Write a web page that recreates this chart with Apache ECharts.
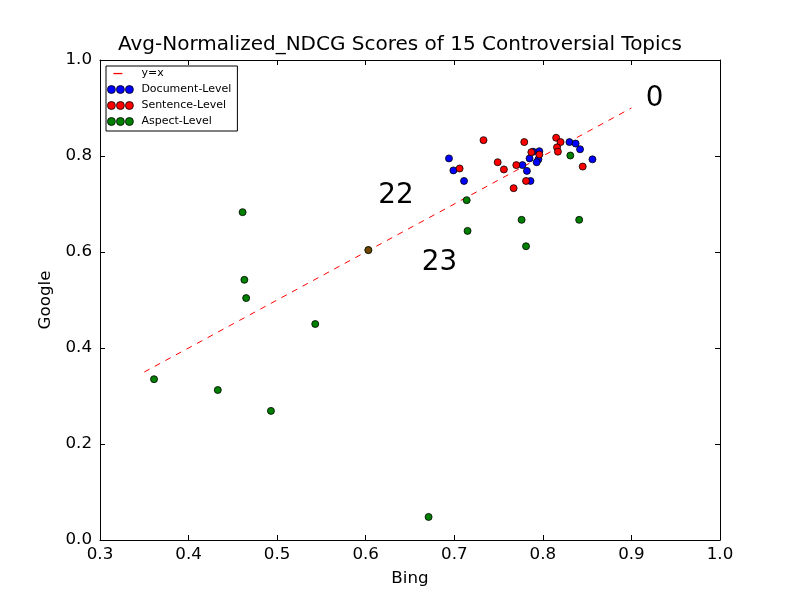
<!DOCTYPE html>
<html>
<head>
<meta charset="utf-8">
<script src="https://cdn.jsdelivr.net/npm/echarts@6/dist/echarts.min.js"></script>
<style>
  html, body { margin: 0; padding: 0; background: #fff; }
  #chart-container { width: 800px; height: 600px; }
</style>
</head>
<body>
<div id="chart-container"></div>
<script>
// values: [bing, google]
var docLevel = [
  [0.694, 0.795], [0.699, 0.770], [0.711, 0.748], [0.777, 0.781], [0.782, 0.769],
  [0.785, 0.795], [0.789, 0.809], [0.796, 0.810], [0.795, 0.793], [0.793, 0.787],
  [0.786, 0.748], [0.830, 0.829], [0.837, 0.826], [0.842, 0.814], [0.856, 0.793]
];
var sentLevel = [
  [0.706, 0.774], [0.733, 0.833], [0.749, 0.787], [0.756, 0.772], [0.770, 0.781],
  [0.767, 0.733], [0.779, 0.829], [0.781, 0.748], [0.787, 0.808], [0.796, 0.803],
  [0.815, 0.838], [0.820, 0.829], [0.816, 0.818], [0.817, 0.809], [0.845, 0.778],
  [0.603, 0.604]
];
var aspLevel = [
  [0.361, 0.335], [0.433, 0.3125], [0.461, 0.683], [0.463, 0.542], [0.465, 0.504],
  [0.493, 0.269], [0.543, 0.450], [0.603, 0.604], [0.671, 0.048], [0.714, 0.708],
  [0.715, 0.644], [0.776, 0.667], [0.781, 0.612], [0.831, 0.801], [0.841, 0.667]
];
var diagLine = [[0.35, 0.35], [0.9, 0.9]];
// topic number labels: [x, y, text]
var topicLabels = [
  [0.9162, 0.920, "0"],
  [0.6142, 0.7175, "22"],
  [0.6632, 0.578, "23"]
];
var legendNames = ["y=x", "Document-Level", "Sentence-Level", "Aspect-Level"];

var FONT = "DejaVu Sans";
var dotsIcon = "path://M0,4a4,4 0 1,0 8,0a4,4 0 1,0 -8,0zM9,4a4,4 0 1,0 8,0a4,4 0 1,0 -8,0zM18,4a4,4 0 1,0 8,0a4,4 0 1,0 -8,0zM29,0";
var dashIcon = "path://M0,0M6,3.4h9v1.3h-9zM29,8";

var dom = document.getElementById("chart-container");
var myChart = echarts.init(dom, null, { renderer: "canvas" });

function frameAxis(pos, min, max, interval, extra) {
  var ax = {
    type: "value",
    position: pos,
    min: min,
    max: max,
    interval: interval,
    splitLine: { show: false },
    axisLine: { show: true, onZero: false, lineStyle: { color: "#000", width: 1 } },
    axisTick: { show: true, inside: true, length: 5, lineStyle: { color: "#000" } },
    axisLabel: { show: false }
  };
  return Object.assign(ax, extra || {});
}

function dots(name, data, color) {
  return {
    name: name,
    type: "scatter",
    data: data,
    symbolSize: 7,
    itemStyle: { color: color, borderColor: "#000", borderWidth: 0.8, opacity: 1 },
    z: 3
  };
}

var labelStyle = { fontFamily: FONT, fontSize: 16.7, color: "#000" };

var option = {
  backgroundColor: "#fff",
  animation: false,
  title: {
    text: "Avg-Normalized_NDCG Scores of 15 Controversial Topics",
    left: "center",
    top: 35,
    padding: 0,
    textStyle: { fontFamily: FONT, fontSize: 20, fontWeight: "normal", color: "#000" }
  },
  legend: {
    data: [
      { name: legendNames[0], icon: dashIcon, itemStyle: { borderWidth: 0, color: "#ff0000" } },
      { name: legendNames[1], icon: dotsIcon },
      { name: legendNames[2], icon: dotsIcon },
      { name: legendNames[3], icon: dotsIcon }
    ],
    orient: "vertical",
    left: 106,
    top: 66,
    padding: [2, 6, 4, 1],
    itemWidth: 29,
    itemHeight: 8,
    itemGap: 5,
    borderColor: "#000",
    borderWidth: 1,
    borderRadius: 0,
    backgroundColor: "#fff",
    selectedMode: false,
    itemStyle: { borderColor: "#000", borderWidth: 0.8 },
    textStyle: { fontFamily: FONT, fontSize: 11, color: "#000" }
  },
  grid: { left: 100, right: 80, top: 60, bottom: 60, containLabel: false },
  xAxis: [
    frameAxis("bottom", 0.3, 1.0, 0.1, {
      name: "Bing",
      nameLocation: "middle",
      nameGap: 30,
      nameTextStyle: labelStyle,
      axisLabel: Object.assign({
        show: true, margin: 6, showMinLabel: true, showMaxLabel: true,
        formatter: function (v) { return v.toFixed(1); }
      }, labelStyle)
    }),
    frameAxis("top", 0.3, 1.0, 0.1)
  ],
  yAxis: [
    frameAxis("left", 0, 1.0, 0.2, {
      name: "Google",
      nameLocation: "middle",
      nameGap: 39,
      nameTextStyle: labelStyle,
      axisLabel: Object.assign({
        show: true, margin: 8, showMinLabel: true, showMaxLabel: true,
        formatter: function (v) { return v.toFixed(1); }
      }, labelStyle)
    }),
    frameAxis("right", 0, 1.0, 0.2)
  ],
  series: [
    {
      name: legendNames[0],
      type: "line",
      data: diagLine,
      symbol: "none",
      color: "#ff0000",
      itemStyle: { color: "#ff0000" },
      lineStyle: { color: "#ff0000", width: 1, type: [6, 6] },
      z: 2
    },
    dots(legendNames[1], docLevel, "#0000ff"),
    dots(legendNames[2], sentLevel, "#ff0000"),
    Object.assign(dots(legendNames[3], aspLevel.map(function (p) {
      // the point sitting on the red one shows as a mixed brown
      return p[0] === 0.603 ? { value: p, itemStyle: { opacity: 0.55 } } : p;
    }), "#008000"), { z: 4 }),
    {
      name: "labels",
      type: "scatter",
      silent: true,
      symbolSize: 0,
      itemStyle: { color: "#000" },
      data: topicLabels.map(function (t) { return { value: [t[0], t[1]], name: t[2] }; }),
      label: {
        show: true,
        position: "right",
        distance: 0,
        formatter: function (p) { return p.name; },
        fontFamily: FONT,
        fontSize: 27.8,
        color: "#000",
        opacity: 1,
        align: "left",
        verticalAlign: "middle"
      },
      z: 5
    }
  ]
};

myChart.setOption(option);
window.addEventListener("resize", myChart.resize);
</script>
</body>
</html>
